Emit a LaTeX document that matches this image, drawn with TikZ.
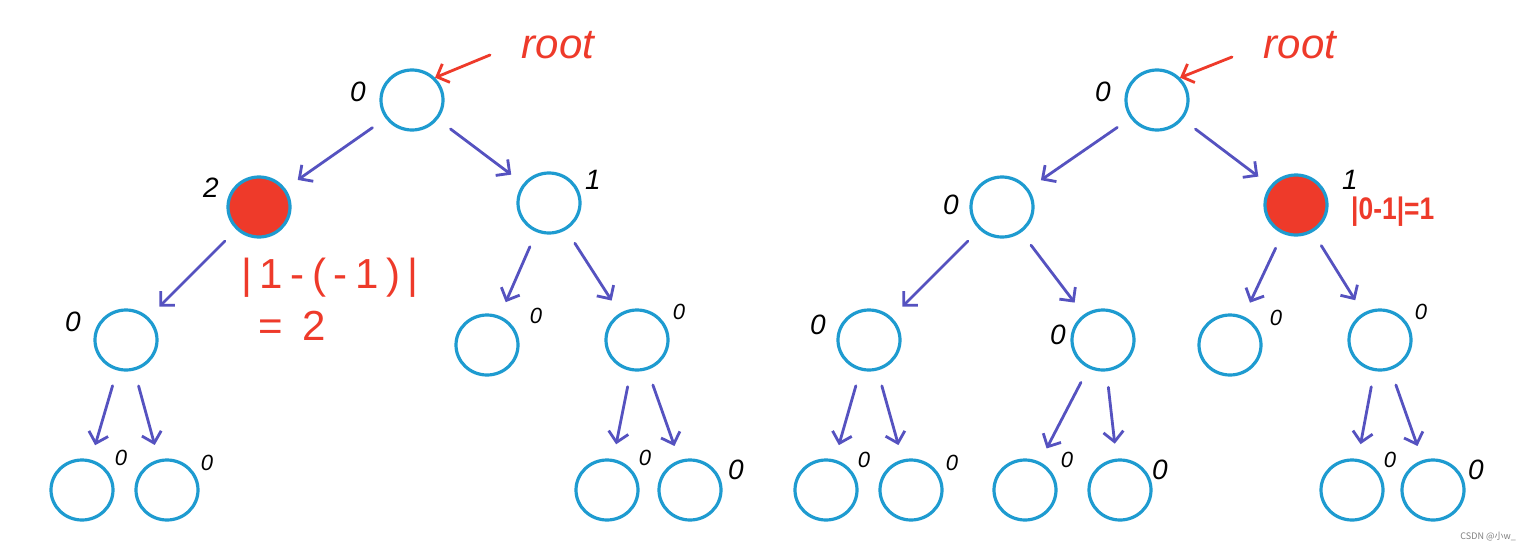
\documentclass[tikz,border=0pt]{standalone}
\usepackage{fontspec}
\setmainfont{Liberation Sans}
\newfontfamily\cjk{Noto Sans CJK SC}
\usetikzlibrary{arrows.meta,shapes.geometric}
\definecolor{ring}{HTML}{1E9BD0}
\definecolor{edgec}{HTML}{5552C0}
\definecolor{hred}{HTML}{EE3A2A}
\tikzset{
  tn/.style={ellipse,draw=ring,line width=3.2pt,minimum width=62pt,minimum height=60pt,inner sep=0pt},
  rn/.style={tn,fill=hred},
  arr/.style={draw=edgec,line width=2.8pt,line cap=round,-{Straight Barb[length=10pt,width=20pt,line width=2.8pt]},shorten <=16pt,shorten >=15pt},
  rarr/.style={draw=hred,line width=2.8pt,line cap=round,-{Straight Barb[length=10pt,width=20pt,line width=2.8pt]}},
  lab/.style={font=\fontsize{28}{30}\selectfont\itshape,text=black,inner sep=0pt},
  smlab/.style={font=\fontsize{22}{24}\selectfont\itshape,text=black,inner sep=0pt},
  rootlab/.style={font=\fontsize{42}{44}\selectfont\itshape,text=hred,inner sep=0pt},
  hw/.style={font=\fontsize{42}{44}\selectfont\addfontfeatures{LetterSpace=18},text=hred,inner sep=0pt},
}
\begin{document}
\begin{tikzpicture}[x=1pt,y=-1pt]
\useasboundingbox[fill=white] (0,0) rectangle (1524,552);
% ---------- left tree ----------
\node[tn] (A) at (412,100) {};
\node[rn] (B) at (259,207) {};
\node[tn] (C) at (549,203) {};
\node[tn] (D) at (126,340) {};
\node[tn] (E) at (487,345) {};
\node[tn] (F) at (637,340) {};
\node[tn] (G) at (82,490) {};
\node[tn] (H) at (167,490) {};
\node[tn] (I) at (607,490) {};
\node[tn] (J) at (690,490) {};
\draw[arr] (A) -- (B);
\draw[arr] (A) -- (C);
\draw[arr] (B) -- (D);
\draw[arr] (C) -- (E);
\draw[arr] (C) -- (F);
\draw[arr] (D) -- (G);
\draw[arr] (D) -- (H);
\draw[arr] (F) -- (I);
\draw[arr] (F) -- (J);
\node[lab] (lA) at (358,92) {0};
\node[lab] (lB) at (211,188) {2};
\node[lab] (lC) at (593,180) {1};
\node[lab] (lD) at (73,322) {0};
\node[smlab] (lE) at (536,316) {0};
\node[smlab] (lF) at (679,312) {0};
\node[smlab] (lG) at (121,458) {0};
\node[smlab] (lH) at (207,463) {0};
\node[smlab] (lI) at (645,458) {0};
\node[lab] (lJ) at (736,470) {0};
\node[rootlab] (rt1) at (558,45) {root};
\coordinate (rs1) at (490,55);
\draw[rarr] (rs1) -- (A.north east);
\node[hw] (f1) at (330,278) {|1-(-1)|};
\node[hw] (f2) at (292,326) {= 2};
% ---------- right tree ----------
\node[tn] (a) at (1157,100) {};
\node[tn] (b) at (1002,207) {};
\node[rn] (c) at (1296,205) {};
\node[tn] (d) at (869,340) {};
\node[tn] (e) at (1103,340) {};
\node[tn] (f) at (1230,345) {};
\node[tn] (g) at (1380,340) {};
\node[tn] (h) at (826,490) {};
\node[tn] (i) at (911,490) {};
\node[tn] (j) at (1025,490) {};
\node[tn] (k) at (1120,490) {};
\node[tn] (l) at (1352,490) {};
\node[tn] (m) at (1433,490) {};
\draw[arr] (a) -- (b);
\draw[arr] (a) -- (c);
\draw[arr] (b) -- (d);
\draw[arr] (b) -- (e);
\draw[arr] (c) -- (f);
\draw[arr] (c) -- (g);
\draw[arr] (d) -- (h);
\draw[arr] (d) -- (i);
\draw[arr] (e) -- (j);
\draw[arr] (e) -- (k);
\draw[arr] (g) -- (l);
\draw[arr] (g) -- (m);
\node[lab] (la) at (1103,92) {0};
\node[lab] (lb) at (951,205) {0};
\node[lab] (lc) at (1350,180) {1};
\node[lab] (ld) at (818,325) {0};
\node[lab] (le) at (1058,335) {0};
\node[smlab] (lf) at (1276,318) {0};
\node[smlab] (lg) at (1421,312) {0};
\node[smlab] (lh) at (864,460) {0};
\node[smlab] (li) at (952,463) {0};
\node[smlab] (lj) at (1067,460) {0};
\node[lab] (lk) at (1160,470) {0};
\node[smlab] (ll) at (1390,460) {0};
\node[lab] (lm) at (1476,470) {0};
\node[rootlab] (rt2) at (1300,45) {root};
\coordinate (rs2) at (1232,57);
\draw[rarr] (rs2) -- (a.north east);
\node[font=\fontsize{24}{26}\selectfont\bfseries,text=hred,inner sep=0pt,anchor=west] (fr) at (1351,212) {\scalebox{1.1}[1.3]{|0-1|=1}};
\node[font=\fontsize{9}{10}\selectfont\cjk,text=gray,anchor=east,inner sep=0pt] (wm) at (1516,537) {CSDN @小w\_};
\end{tikzpicture}
\end{document}
